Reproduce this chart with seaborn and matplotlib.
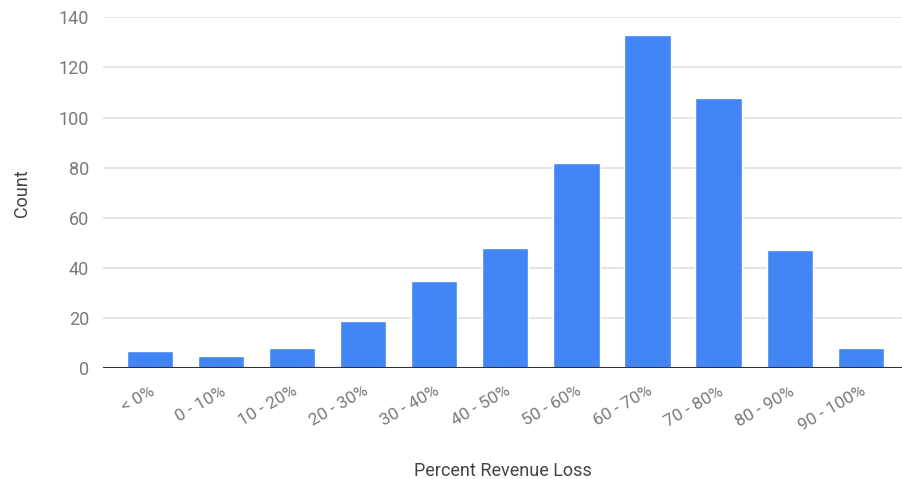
import matplotlib
matplotlib.use("Agg")
import matplotlib.pyplot as plt
import seaborn as sns
import pandas as pd

# values
categories = ["< 0%", "0 - 10%", "10 - 20%", "20 - 30%", "30 - 40%", "40 - 50%",
              "50 - 60%", "60 - 70%", "70 - 80%", "80 - 90%", "90 - 100%"]
counts = [7, 5, 8, 19, 35, 48, 82, 133, 108, 47, 8]
y_ticks = [0, 20, 40, 60, 80, 100, 120, 140]

df = pd.DataFrame({"bin": categories, "count": counts})

sns.set_style("white")
plt.rcParams["font.family"] = ["Roboto", "DejaVu Sans"]

fig = plt.figure(figsize=(9.02, 4.79), dpi=100)
ax = fig.add_axes([0.1142, 0.2311, 0.8858, 0.7328])

sns.barplot(data=df, x="bin", y="count", color="#4285F4", saturation=1,
            width=0.65, ax=ax, zorder=3)

ax.set_ylim(0, 140)
ax.set_xlim(-0.66, 10.58)
ax.set_yticks(y_ticks)
ax.yaxis.grid(True, color="#e0e0e0", linewidth=1.2, zorder=0)
ax.set_axisbelow(True)
ax.axhline(0, color="#333333", linewidth=1.5, zorder=4)
for s in ax.spines.values():
    s.set_visible(False)

ax.tick_params(axis="both", length=0, colors="#7a7a7a", labelsize=13)
ax.tick_params(axis="y", pad=10)
ax.tick_params(axis="x", pad=11)
for lbl in ax.get_xticklabels():
    lbl.set_rotation(30)
    lbl.set_ha("right")
    lbl.set_rotation_mode("anchor")
    lbl.set_fontsize(12.5)

ax.set_xlabel("Percent Revenue Loss", fontsize=13, color="#444444", labelpad=20)
ax.set_ylabel("Count", fontsize=13, color="#444444", labelpad=20)

fig.savefig("out.png", dpi=100, facecolor="white")
